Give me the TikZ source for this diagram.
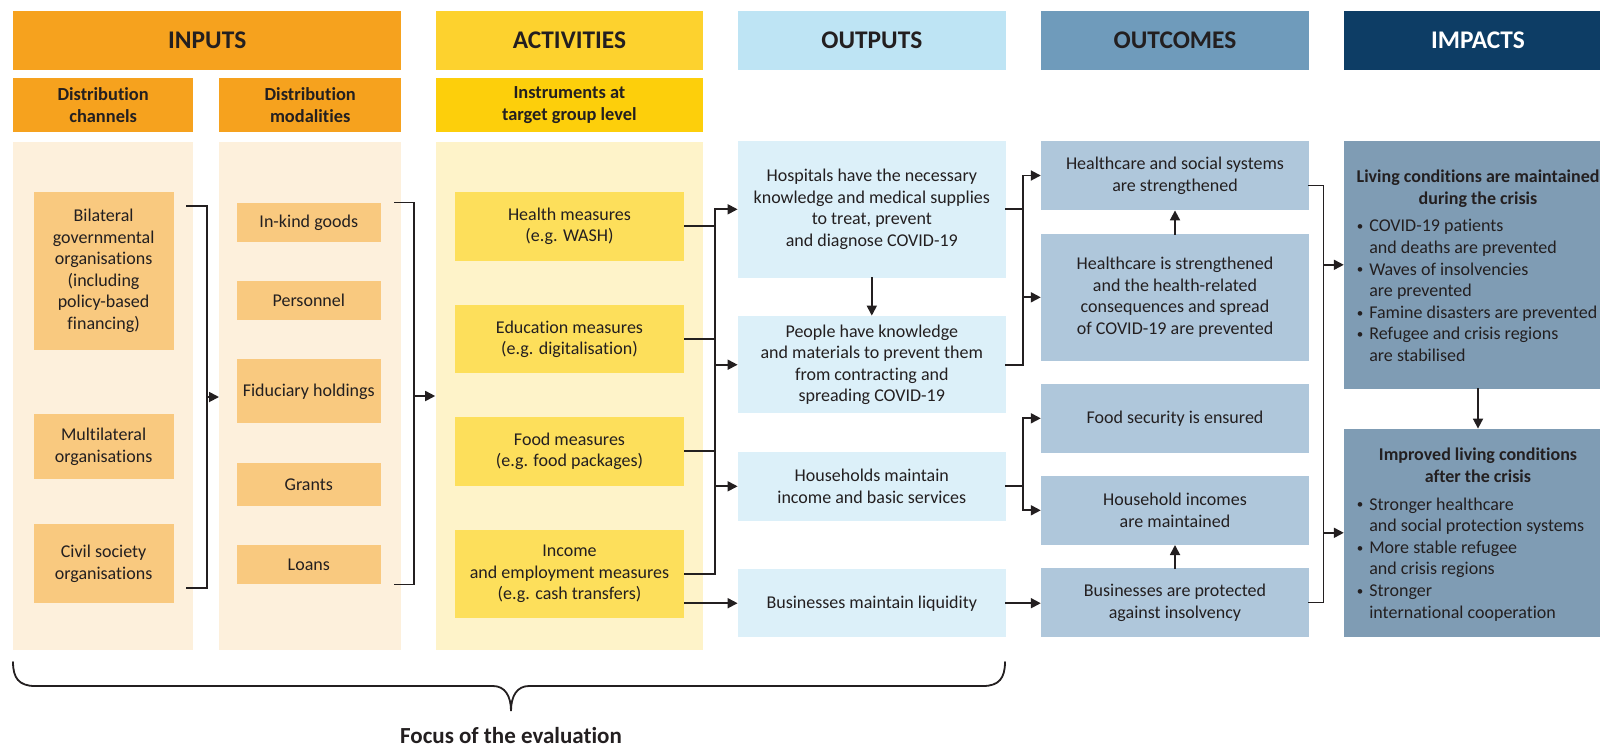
\documentclass[tikz,border=0pt]{standalone}
\usepackage{fontspec}
\setmainfont{Carlito}[Ligatures=NoCommon]
\usetikzlibrary{arrows.meta,positioning}

\definecolor{ink}{HTML}{231F20}
\definecolor{inhead}{HTML}{F6A21E}
\definecolor{infill}{HTML}{F9C97F}
\definecolor{inpanel}{HTML}{FDF0DC}
\definecolor{acthead}{HTML}{FDD22E}
\definecolor{actsub}{HTML}{FDCF0B}
\definecolor{actfill}{HTML}{FDDF5B}
\definecolor{actpanel}{HTML}{FEF3C9}
\definecolor{outhead}{HTML}{BEE4F4}
\definecolor{outfill}{HTML}{DCF0F9}
\definecolor{ochead}{HTML}{6F9BBB}
\definecolor{ocfill}{HTML}{AFC7DB}
\definecolor{imphead}{HTML}{0D3D65}
\definecolor{impfill}{HTML}{7F9CB4}

\newcommand{\bul}{\makebox[6.2pt][l]{\raisebox{0.6pt}{\fontsize{6.5}{6.5}\selectfont\textbullet}}}
\newcommand{\ind}{\hspace*{6.2pt}}

\begin{document}
\begin{tikzpicture}[
    x=0.5pt, y=-0.5pt,
    every node/.style={text=ink, inner sep=0pt, align=center},
    colhead/.style={minimum width=133.8pt, minimum height=29.5pt, font=\fontsize{12.7}{15}\selectfont\bfseries},
    subhead/.style={minimum height=26.8pt, font=\fontsize{9.2}{11}\selectfont\bfseries},
    panel/.style={minimum height=254pt},
    txt/.style={font=\fontsize{9}{10.8}\selectfont},
    chanbox/.style={txt, fill=infill, minimum width=69.9pt},
    modbox/.style={txt, fill=infill, minimum width=72pt},
    actbox/.style={txt, fill=actfill, minimum width=114.5pt},
    outbox/.style={txt, fill=outfill, minimum width=133.8pt},
    ocbox/.style={txt, fill=ocfill, minimum width=133.8pt},
    impbox/.style={fill=impfill, minimum width=133.8pt},
    imptitle/.style={font=\fontsize{9}{10.8}\selectfont\bfseries},
    implist/.style={txt, align=left},
    link/.style={draw=ink, line width=0.9pt, line cap=rect},
    arr/.style={link, -{Triangle[length=5pt,width=5pt]}},
]
\useasboundingbox (0,0) rectangle (1600,751);

\node[colhead, fill=inhead, minimum width=193.9pt] (inputs) at (207.2,40.5) {INPUTS};
\node[colhead, fill=acthead] (activities) at (569.4,40.5) {ACTIVITIES};
\node[colhead, fill=outhead] (outputs) at (871.8,40.5) {OUTPUTS};
\node[colhead, fill=ochead] (outcomes) at (1175,40.5) {OUTCOMES};
\node[colhead, fill=imphead, text=white] (impacts) at (1478,40.5) {IMPACTS};

\node[subhead, fill=inhead, minimum width=89.8pt] (channels) at (103.1,104.9) {Distribution\\channels};
\node[subhead, fill=inhead, minimum width=90.8pt] (modalities) at (310.2,104.9) {Distribution\\modalities};
\node[subhead, fill=actsub, minimum width=133.8pt] (instruments) at (569.4,104.9) {Instruments at\\target group level};

\node[panel, fill=inpanel, minimum width=89.8pt] (chanpanel) at (103.1,396) {};
\node[panel, fill=inpanel, minimum width=90.8pt] (modpanel) at (310.2,396) {};
\node[panel, fill=actpanel, minimum width=133.8pt] (actpanel) at (569.4,396) {};

\node[chanbox, minimum height=78.8pt] (bilateral) at (103.6,270.8) {Bilateral\\governmental\\organisations\\(including\\policy-based\\financing)};
\node[chanbox, minimum height=32.7pt] (multilateral) at (103.6,446.7) {Multilateral\\organisations};
\node[chanbox, minimum height=39.7pt] (civil) at (103.6,563.7) {Civil society\\organisations};

\node[modbox, minimum height=19.3pt] (inkind) at (308.8,222.3) {In-kind goods};
\node[modbox, minimum height=19.3pt] (personnel) at (308.8,300.3) {Personnel};
\node[modbox, minimum height=32pt] (fiduciary) at (308.8,391.3) {Fiduciary holdings};
\node[modbox, minimum height=21.2pt] (grants) at (308.8,484.5) {Grants};
\node[modbox, minimum height=19.3pt] (loans) at (308.8,564.3) {Loans};

\node[actbox, minimum height=34.3pt] (health) at (569.5,226.3) {Health measures\\(e.g. WASH)};
\node[actbox, minimum height=34.2pt] (education) at (569.5,339.2) {Education measures\\(e.g. digitalisation)};
\node[actbox, minimum height=34.3pt] (food) at (569.5,451.3) {Food measures\\(e.g. food packages)};
\node[actbox, minimum height=43.8pt] (income) at (569.5,573.8) {Income\\and employment measures\\(e.g. cash transfers)};

\node[outbox, minimum height=68.3pt] (hospitals) at (871.8,209.3) {Hospitals have the necessary\\knowledge and medical supplies\\to treat, prevent\\and diagnose COVID-19};
\node[outbox, minimum height=48.7pt] (people) at (871.8,364.7) {People have knowledge\\and materials to prevent them\\from contracting and\\spreading COVID-19};
\node[outbox, minimum height=34.3pt] (households) at (871.8,486.3) {Households maintain\\income and basic services};
\node[outbox, minimum height=34.2pt] (liquidity) at (871.8,603.2) {Businesses maintain liquidity};

\node[ocbox, minimum height=34.5pt] (hss) at (1175,175.5) {Healthcare and social systems\\are strengthened};
\node[ocbox, minimum height=63.3pt] (hcare) at (1175,297.3) {Healthcare is strengthened\\and the health-related\\consequences and spread\\of COVID-19 are prevented};
\node[ocbox, minimum height=34.3pt] (foodsec) at (1175,418.3) {Food security is ensured};
\node[ocbox, minimum height=34.3pt] (hhincome) at (1175,510.3) {Household incomes\\are maintained};
\node[ocbox, minimum height=34.2pt] (protected) at (1175,602.5) {Businesses are protected\\against insolvency};

\node[impbox, minimum height=123.8pt] (living) at (1478,264.8) {};
\node[impbox, minimum height=103.8pt] (improved) at (1478,532.8) {};
\node[imptitle, below=14.4pt of living.north] (livinghead) {Living conditions are maintained\\during the crisis};
\node[implist, anchor=north west] (livinglist) at ([xshift=6.35pt,yshift=-39.3pt]living.north west)
    {\bul COVID-19 patients\\\ind and deaths are prevented\\\bul Waves of insolvencies\\\ind are prevented\\\bul Famine disasters are prevented\\\bul Refugee and crisis regions\\\ind are stabilised};
\node[imptitle, below=9.6pt of improved.north] (improvedhead) {Improved living conditions\\after the crisis};
\node[implist, anchor=north west] (improvedlist) at ([xshift=6.35pt,yshift=-34.3pt]improved.north west)
    {\bul Stronger healthcare\\\ind and social protection systems\\\bul More stable refugee\\\ind and crisis regions\\\bul Stronger\\\ind international cooperation};

\coordinate (chtop) at (187,206);
\coordinate (chbot) at (187,588);
\coordinate (chmid) at (207,397);
\draw[link] (chtop) -- (chtop -| chmid) -- (chbot -| chmid) -- (chbot);
\draw[arr] (chmid) -- (chmid -| modpanel.west);

\coordinate (modtop) at (395,202.5);
\coordinate (modbot) at (395,584.5);
\coordinate (modmid) at (414.3,396);
\draw[link] (modtop) -- (modtop -| modmid) -- (modbot -| modmid) -- (modbot);
\draw[arr] (modmid) -- (modmid -| actpanel.west);

\coordinate (actbus) at (715,0);
\draw[link] (hospitals.west -| actbus) -- (income.east -| actbus);
\foreach \n in {health,education,food,income}
    \draw[link] (\n.east) -- (\n.east -| actbus);
\foreach \n in {hospitals,people,households}
    \draw[arr] (\n.west -| actbus) -- (\n.west);
\draw[arr] (liquidity.west -| income.east) -- (liquidity.west);
\draw[arr] (hospitals.south) -- (people.north);

\coordinate (outbus) at (1023,0);
\draw[link] (hss.west -| outbus) -- (people.east -| outbus);
\draw[link] (hospitals.east) -- (hospitals.east -| outbus);
\draw[link] (people.east) -- (people.east -| outbus);
\draw[arr] (hss.west -| outbus) -- (hss.west);
\draw[arr] (hcare.west -| outbus) -- (hcare.west);
\draw[link] (households.east) -- (households.east -| outbus);
\draw[link] (foodsec.west -| outbus) -- (hhincome.west -| outbus);
\draw[arr] (foodsec.west -| outbus) -- (foodsec.west);
\draw[arr] (hhincome.west -| outbus) -- (hhincome.west);
\draw[arr] (liquidity.east) -- (liquidity.east -| protected.west);
\draw[arr] (hcare.north) -- (hss.south);
\draw[arr] (protected.north) -- (hhincome.south);

\coordinate (impbus) at (1323.5,0);
\draw[link] ([yshift=-5pt]hss.east) -| (impbus |- protected.east) -- (protected.east);
\draw[arr] (impbus |- living.west) -- (living.west);
\draw[arr] (impbus |- improved.west) -- (improved.west);
\draw[arr] (living.south) -- (improved.north);

\coordinate (bracel) at (13,662);
\coordinate (bracer) at (1005,662);
\coordinate (tip) at (511,711);
\draw[link, line cap=round] (bracel) .. controls (13,678) and (19,686) .. (35,686) -- (493,686)
    .. controls (505,686) and (511,696) .. (tip) .. controls (511,696) and (517,686) .. (529,686)
    -- (983,686) .. controls (999,686) and (1005,678) .. (bracer);
\node[font=\fontsize{11.5}{14}\selectfont\bfseries, below=8pt of tip] (focus) {Focus of the evaluation};

\end{tikzpicture}
\end{document}
